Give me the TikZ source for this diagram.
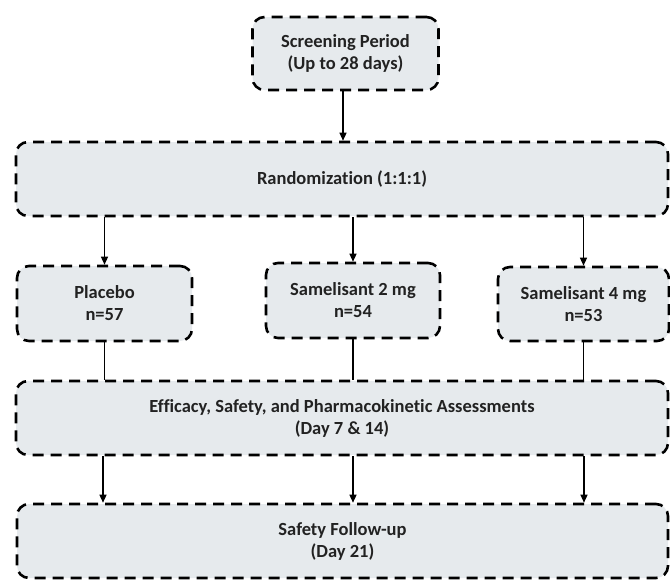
\documentclass[tikz,border=0pt]{standalone}
\usepackage{fontspec}
\setmainfont{Carlito}[Ligatures={NoCommon,NoRare,NoDiscretionary}]
\usetikzlibrary{arrows.meta}
\definecolor{boxfill}{HTML}{E6EAED}
\definecolor{txtcol}{HTML}{222222}
\tikzset{
  stagebox/.style={draw=black, fill=boxfill, line width=2.6pt,
    dash pattern=on 11pt off 7pt, rounded corners=12pt,
    inner sep=0pt, align=center, text=txtcol,
    font=\fontsize{18.5pt}{22pt}\selectfont\bfseries},
  flow/.style={draw=black, line width=1.3pt, -{Triangle[length=8pt,width=7pt]}},
  link/.style={draw=black, line width=1.3pt}
}
\begin{document}
\begin{tikzpicture}[x=1pt,y=-1pt]
\useasboundingbox (0,0) rectangle (670,579);
\node[stagebox, minimum width=186pt, minimum height=73pt] (screen) at (345.5,53.5) {Screening Period\\(Up to 28 days)};
\node[stagebox, minimum width=652pt, minimum height=74pt] (rand) at (342,179) {Randomization (1:1:1)};
\node[stagebox, minimum width=175pt, minimum height=75pt] (plac) at (104.5,303.5) {Placebo\\n=57};
\node[stagebox, minimum width=174pt, minimum height=75pt] (sam2) at (353,300.5) {Samelisant 2 mg\\n=54};
\node[stagebox, minimum width=171pt, minimum height=74pt] (sam4) at (583.5,304) {Samelisant 4 mg\\n=53};
\node[stagebox, minimum width=652pt, minimum height=74pt] (eff) at (342,418) {Efficacy, Safety, and Pharmacokinetic Assessments\\(Day 7 \& 14)};
\node[stagebox, minimum width=651pt, minimum height=74pt] (safe) at (342.5,541) {Safety Follow-up\\(Day 21)};
\coordinate (s1) at (343,0);
\draw[flow] (screen.south -| s1) -- (rand.north -| s1);
\draw[flow] (rand.south -| plac.north) -- (plac.north);
\draw[flow] (rand.south -| sam2.north) -- (sam2.north);
\draw[flow] (rand.south -| sam4.north) -- (sam4.north);
\draw[link] (plac.south) -- (eff.north -| plac.south);
\draw[link] (sam2.south) -- (eff.north -| sam2.south);
\draw[link] (sam4.south) -- (eff.north -| sam4.south);
\coordinate (a1) at (103,0);
\coordinate (a2) at (353,0);
\coordinate (a3) at (584,0);
\draw[flow] (eff.south -| a1) -- (safe.north -| a1);
\draw[flow] (eff.south -| a2) -- (safe.north -| a2);
\draw[flow] (eff.south -| a3) -- (safe.north -| a3);
\end{tikzpicture}
\end{document}
